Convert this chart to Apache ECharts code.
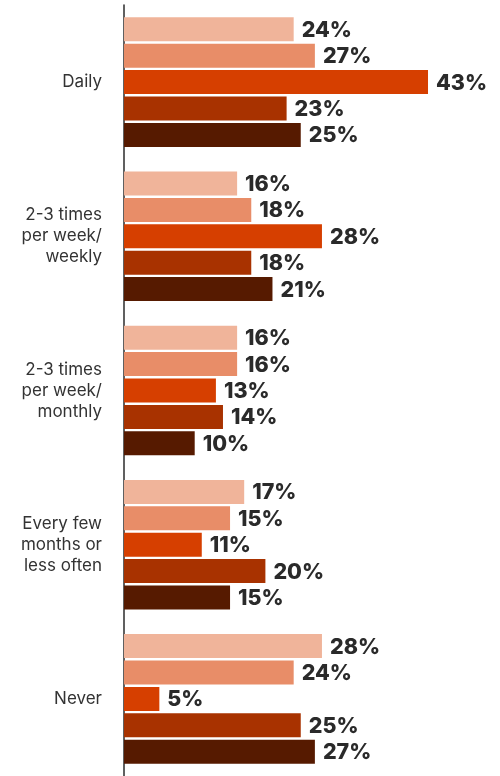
<!DOCTYPE html>
<html>
<head>
<meta charset="utf-8">
<script src="https://cdn.jsdelivr.net/npm/echarts@6/dist/echarts.min.js"></script>
<style>
  html, body { margin: 0; padding: 0; background: #fff; }
  #chart { width: 500px; height: 776px; }
</style>
</head>
<body>
<div id="chart"></div>
<script>
// Frequency categories (top to bottom)
const categories = [
  'Daily',
  '2-3 times\nper week/\nweekly',
  '2-3 times\nper week/\nmonthly',
  'Every few\nmonths or\nless often',
  'Never'
];

// Five groups, one value per category (percent)
const group1 = [24, 16, 16, 17, 28];
const group2 = [27, 18, 16, 15, 24];
const group3 = [43, 28, 13, 11, 5];
const group4 = [23, 18, 14, 20, 25];
const group5 = [25, 21, 10, 15, 27];

const seriesValues = [group1, group2, group3, group4, group5];
const colors = ['#F0B49A', '#E88D68', '#D63F00', '#A83200', '#561A00'];

const chart = echarts.init(document.getElementById('chart'));

chart.setOption({
  animation: false,
  grid: { left: 124, top: 5, width: 353.5, height: 772 },
  xAxis: {
    type: 'value',
    min: 0,
    max: 50,
    show: false
  },
  yAxis: {
    type: 'category',
    data: categories,
    inverse: true,
    axisLine: { show: true, lineStyle: { color: '#2b2b2b', width: 1.5 } },
    axisTick: { show: false },
    axisLabel: {
      margin: 22,
      align: 'right',
      color: '#333333',
      fontFamily: 'Inter',
      fontSize: 17,
      lineHeight: 21
    }
  },
  series: seriesValues.map((vals, i) => ({
    type: 'bar',
    data: vals,
    barWidth: 24,
    barGap: '10%',
    itemStyle: { color: colors[i] },
    label: {
      show: true,
      position: 'right',
      distance: 8,
      offset: [0, 1],
      formatter: '{c}%',
      color: '#2a2a2a',
      fontFamily: 'Inter',
      fontWeight: 800,
      fontSize: 21.5
    }
  }))
});
</script>
</body>
</html>
